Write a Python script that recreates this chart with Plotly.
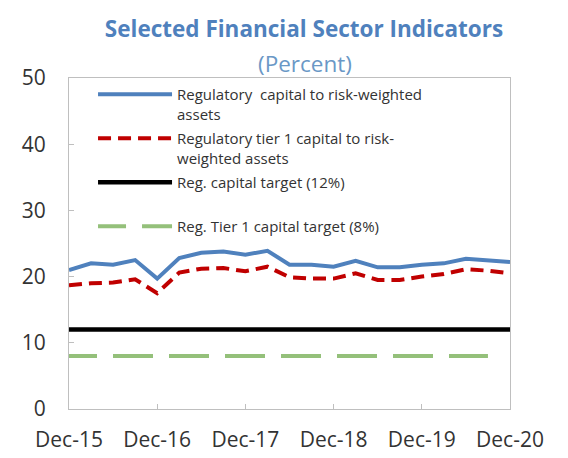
import plotly.graph_objects as go

# Quarterly observations, Dec-2015 to Dec-2020
quarters = ["Dec-15", "Mar-16", "Jun-16", "Sep-16", "Dec-16", "Mar-17", "Jun-17",
            "Sep-17", "Dec-17", "Mar-18", "Jun-18", "Sep-18", "Dec-18", "Mar-19",
            "Jun-19", "Sep-19", "Dec-19", "Mar-20", "Jun-20", "Sep-20", "Dec-20"]

reg_capital_rwa = [21.0, 22.0, 21.8, 22.5, 19.7, 22.8, 23.6, 23.8, 23.3, 23.9, 21.8,
                   21.8, 21.5, 22.4, 21.4, 21.4, 21.8, 22.0, 22.7, 22.5, 22.2]
tier1_capital_rwa = [18.7, 19.0, 19.1, 19.6, 17.5, 20.6, 21.2, 21.3, 20.8, 21.5, 19.9,
                     19.7, 19.7, 20.5, 19.5, 19.5, 20.0, 20.4, 21.1, 20.9, 20.5]
capital_target = [12] * 21
tier1_target = [8] * 20   # series ends at Sep-20

year_ticks = ["Dec-15", "Dec-16", "Dec-17", "Dec-18", "Dec-19", "Dec-20"]

FONT = "Open Sans"
TXT = "#333333"
FRAME = "#bfbfbf"

fig = go.Figure()
fig.add_trace(go.Scatter(
    x=quarters, y=reg_capital_rwa, mode="lines", legendgroup="a",
    name="Regulatory  capital to risk-weighted<br>assets",
    line=dict(color="#4f81bd", width=4)))
fig.add_trace(go.Scatter(
    x=quarters, y=tier1_capital_rwa, mode="lines", legendgroup="b",
    name="Regulatory tier 1 capital to risk-<br>weighted assets",
    line=dict(color="#c00000", width=4, dash="13px,7px")))
fig.add_trace(go.Scatter(
    x=quarters, y=capital_target, mode="lines", legendgroup="c",
    name="Reg. capital target (12%)<br>&nbsp;",
    line=dict(color="#000000", width=4.5)))
fig.add_trace(go.Scatter(
    x=quarters[:len(tier1_target)], y=tier1_target, mode="lines", legendgroup="d",
    name="Reg. Tier 1 capital target (8%)",
    line=dict(color="#94c07a", width=4,
              dash="28px,16px,40px,16px,40px,16px,40px,16px,40px,16px,40px,16px,40px,16px,40px,16px")))

fig.update_layout(
    width=568, height=458,
    margin=dict(l=69, r=58, t=78, b=49, autoexpand=False),
    paper_bgcolor="white", plot_bgcolor="white",
    font=dict(family=FONT, color=TXT),
    title=dict(text="<b>Selected Financial Sector Indicators</b>",
               x=304 / 568, xanchor="center", y=1 - 29 / 458, yanchor="middle",
               font=dict(family=FONT, size=22.5, color="#4f81bd"), automargin=False),
    annotations=[dict(text="(Percent)", xref="paper", yref="paper",
                      x=(305 - 69) / 441, y=1 + (78 - 64) / 331,
                      xanchor="center", yanchor="middle", showarrow=False,
                      font=dict(family=FONT, size=22.5, color="#6a98c6"))],
    showlegend=True,
    legend=dict(x=0.0545, y=1.0, xanchor="left", yanchor="top",
                bgcolor="rgba(0,0,0,0)", font=dict(family=FONT, size=15, color=TXT),
                itemwidth=74, valign="top", traceorder="grouped", tracegroupgap=2),
    xaxis=dict(type="category", categoryorder="array", categoryarray=quarters,
               range=[0, 20], tickmode="array", tickvals=year_ticks, ticktext=year_ticks,
               ticks="inside", ticklen=5, tickcolor=FRAME, showgrid=False,
               showline=True, linecolor=FRAME, linewidth=1, mirror=True, automargin=False,
               tickfont=dict(family=FONT, size=21, color=TXT), ticklabelstandoff=12),
    yaxis=dict(range=[0, 50], tickvals=[0, 10, 20, 30, 40, 50], ticks="inside",
               ticklen=5, tickcolor=FRAME, showgrid=False, zeroline=False,
               showline=True, linecolor=FRAME, linewidth=1, mirror=True, automargin=False,
               tickfont=dict(family=FONT, size=21, color=TXT), ticklabelstandoff=18),
    yaxis2=dict(range=[0, 50], tickvals=[0, 10, 20, 30, 40, 50], overlaying="y",
                side="right", ticks="inside", ticklen=5, tickcolor=FRAME,
                showgrid=False, zeroline=False, showline=False, automargin=False,
                tickfont=dict(family=FONT, size=21, color=TXT), ticklabelstandoff=18),
)

fig.write_html("out.html")
